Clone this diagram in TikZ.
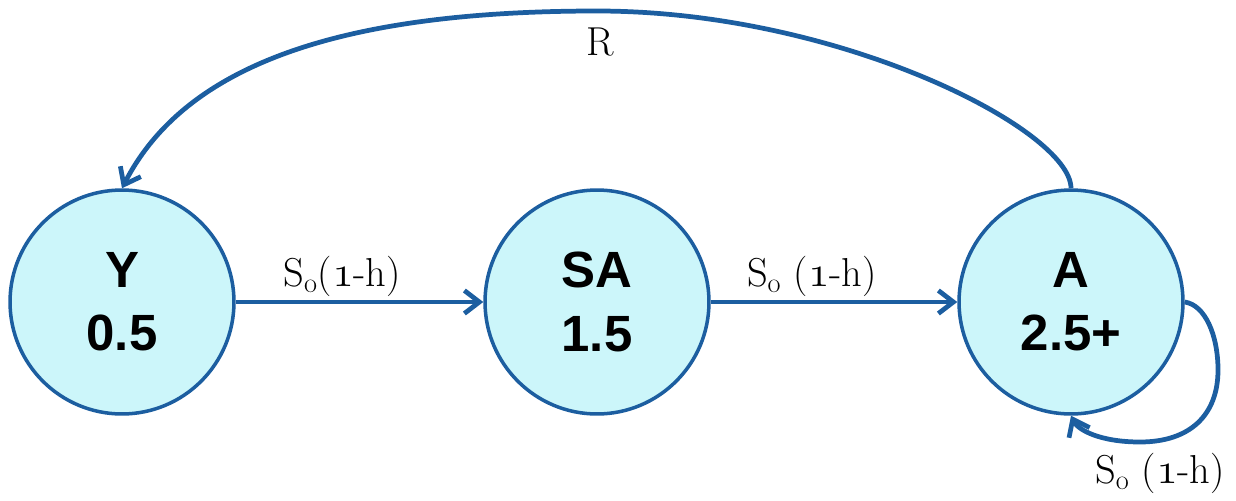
\documentclass[tikz,border=0pt]{standalone}
\usepackage{fontspec}
\newfontfamily\nodefont{Liberation Sans}
\usetikzlibrary{arrows.meta}
\definecolor{edgeblue}{RGB}{28,94,160}
\definecolor{fillcyan}{RGB}{204,246,250}
\tikzset{
  state/.style={circle, draw=edgeblue, fill=fillcyan, line width=2pt,
    minimum size=4.48cm, inner sep=0pt, align=center,
    font=\nodefont\bfseries\fontsize{29}{36}\selectfont},
  flow/.style={draw=edgeblue, line width=2.7pt,
    -{Straight Barb[length=0.3cm,width=0.46cm]}},
  lbl/.style={font=\fontsize{23}{28}\selectfont, text=black, inner sep=2pt}
}
\begin{document}
\begin{tikzpicture}[x=0.02cm,y=-0.02cm]
\useasboundingbox (0,0) rectangle (1236,500);
\node[state] (Y) at (122,302) {Y\\0.5};
\node[state] (SA) at (597,302) {SA\\1.5};
\node[state] (A) at (1071,302) {A\\2.5+};
\draw[flow] (Y) -- node[lbl, above, pos=0.43] (l1) {S\textsubscript{o}($\mathnormal{1}$-h)} (SA);
\draw[flow] (SA) -- node[lbl, above, pos=0.41] (l2) {S\textsubscript{o} ($\mathnormal{1}$-h)} (A);
\coordinate (top) at (597,11);
\draw[flow] (A.north) .. controls (1071,130) and (840,11) .. (top)
  .. controls (340,11) and (185,65) .. (Y.north);
\node[lbl] (lr) at (600,42) {R};
\coordinate (lp1) at (1218,370);
\coordinate (lp2) at (1140,442);
\draw[flow] (A.east) .. controls (1205,305) and (1218,335) .. (lp1)
  .. controls (1218,415) and (1190,442) .. (lp2)
  .. controls (1100,442) and (1078,430) .. (A.south);
\node[lbl] (l3) at (1160,473) {S\textsubscript{o} ($\mathnormal{1}$-h)};
\end{tikzpicture}
\end{document}
